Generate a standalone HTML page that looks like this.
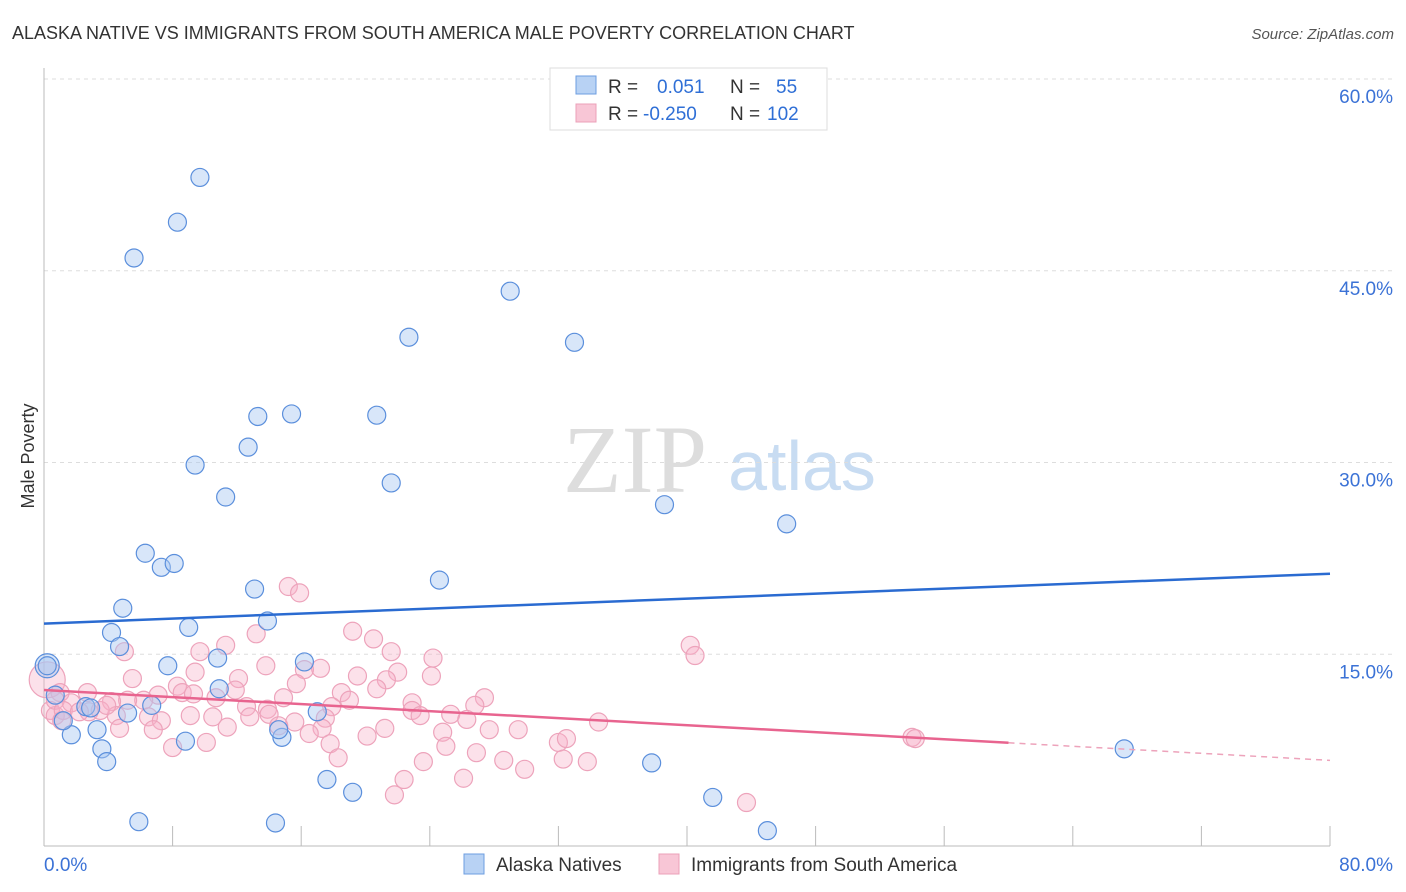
<!DOCTYPE html>
<html><head><meta charset="utf-8"><style>
body{margin:0;background:#fff;font-family:"Liberation Sans",sans-serif;}
svg{display:block}
</style></head><body>
<svg id="c" width="1406" height="892">
<text x="12" y="39" font-size="18" fill="#333">ALASKA NATIVE VS IMMIGRANTS FROM SOUTH AMERICA MALE POVERTY CORRELATION CHART</text>
<text x="1394" y="39" font-size="15" fill="#555" font-style="italic" text-anchor="end">Source: ZipAtlas.com</text>
<text x="34" y="456" font-size="18" fill="#333" text-anchor="middle" transform="rotate(-90 34 456)">Male Poverty</text>
<g>
<text x="635" y="492" font-size="96" fill="#ddd" font-family="Liberation Serif,serif" text-anchor="middle">ZIP</text>
<text x="802" y="490" font-size="70" fill="#c8dcf2" text-anchor="middle">atlas</text>
</g>
<g id="grid"></g><g id="axes"></g><g id="pts"></g><g id="trend"></g>
<g>
<rect x="550" y="68" width="277" height="62" fill="#fff" stroke="#ddd"/>
<rect x="576" y="76" width="20" height="18" fill="#b8d2f4" stroke="#6d9ee0"/>
<rect x="576" y="104" width="20" height="18" fill="#f8c6d6" stroke="#eba0b8"/>
<text x="608" y="93" font-size="19" fill="#333">R = <tspan x="657" fill="#2f6fd6">0.051</tspan><tspan x="730" fill="#333">N = </tspan><tspan x="776" fill="#2f6fd6">55</tspan></text>
<text x="608" y="120" font-size="19" fill="#333">R = <tspan x="643" fill="#2f6fd6">-0.250</tspan><tspan x="730" fill="#333">N = </tspan><tspan x="767" fill="#2f6fd6">102</tspan></text>
</g>
<g>
<rect x="464" y="854" width="20" height="20" fill="#b8d2f4" stroke="#6d9ee0"/>
<text x="496" y="871" font-size="19" fill="#333">Alaska Natives</text>
<rect x="659" y="854" width="20" height="20" fill="#f8c6d6" stroke="#eba0b8"/>
<text x="691" y="871" font-size="19" fill="#333">Immigrants from South America</text>
</g>
</svg>
<script>
const yTicks=[15,30,45,60];
const yTickLabels=["15.0%","30.0%","45.0%","60.0%"];
const xLabels=["0.0%","80.0%"];
const blueX=[0.2,9.7,8.3,5.6,29.0,22.7,33.0,13.3,15.4,20.7,9.4,12.7,11.3,21.6,38.6,46.2,6.3,7.3,8.1,24.6,13.1,4.9,13.9,9.0,4.2,4.7,7.7,10.8,16.2,10.9,6.7,5.2,0.7,2.6,3.3,1.7,3.6,3.9,8.8,14.8,17.0,14.6,17.6,19.2,37.8,41.6,45.0,5.9,14.4,67.2,1.2,2.9];
const blueY=[14.1,52.3,48.8,46.0,43.4,39.8,39.4,33.6,33.8,33.7,29.8,31.2,27.3,28.4,26.7,25.2,22.9,21.8,22.1,20.8,20.1,18.6,17.6,17.1,16.7,15.6,14.1,14.7,14.4,12.3,11.0,10.4,11.8,10.9,9.1,8.7,7.6,6.6,8.2,8.5,10.5,9.1,5.2,4.2,6.5,3.8,1.2,1.9,1.8,7.6,9.8,10.8];
const pinkX=[15.2,15.9,40.2,40.5,19.2,20.5,21.6,24.2,13.2,11.3,9.7,5.0,17.2,16.2,13.8,9.4,5.5,12.1,19.5,22.0,24.1,21.3,15.7,20.7,18.5,8.3,8.6,11.9,27.4,22.9,26.8,19.0,17.9,14.9,13.9,12.6,10.7,9.3,7.1,6.2,5.2,4.2,2.7,1.0,0.4,0.7,1.7,2.8,4.5,6.5,7.3,9.1,10.5,12.8,14.0,22.9,23.4,25.3,26.3,34.5,17.5,17.3,15.6,14.6,11.4,4.7,6.8,21.2,27.7,29.5,24.8,16.5,10.1,8.0,17.8,20.1,25.0,26.9,32.0,32.5,18.3,28.6,23.6,32.3,33.8,29.9,26.1,22.4,21.8,43.7,54.0,54.2,0.7,1.2,2.2,3.5,3.9,1.1];
const pinkY=[20.3,19.8,15.7,14.9,16.8,16.2,15.2,14.7,16.6,15.7,15.2,15.2,13.9,13.8,14.1,13.6,13.1,13.1,13.3,13.6,13.3,13.0,12.7,12.3,12.0,12.5,12.0,12.2,11.6,11.2,11.0,11.4,10.9,11.6,10.7,10.9,11.6,11.9,11.8,11.4,11.4,11.3,12.0,12.0,10.6,10.2,11.2,10.5,10.2,10.1,9.8,10.2,10.1,10.1,10.3,10.6,10.2,10.3,9.9,9.7,10.0,9.2,9.7,9.4,9.3,9.2,9.1,9.2,9.1,9.1,8.9,8.8,8.1,7.7,8.0,8.6,7.8,7.3,8.1,8.4,6.9,6.7,6.6,6.8,6.6,6.0,5.3,5.2,4.0,3.4,8.5,8.4,11.4,10.6,10.5,10.6,11.0,9.8];
const bigBlue={x:0.2,y:14.1};const bigPink={x:0.2,y:13.0};
const blueTrend=[17.4,21.3];const pinkTrend=[12.2,6.7];const pinkSolidEnd=60;
const X0=44,X1=1330,Y0=846,Y60=79;
const sx=v=>X0+(X1-X0)*v/80, sy=v=>Y0-(Y0-Y60)*v/60;
const NS="http://www.w3.org/2000/svg";
function mk(t,a,p){const e=document.createElementNS(NS,t);for(const k in a)e.setAttribute(k,a[k]);p.appendChild(e);return e;}
const grid=document.getElementById('grid'),axes=document.getElementById('axes'),pts=document.getElementById('pts'),tr=document.getElementById('trend');
yTicks.forEach((v,i)=>{
 const l=mk('line',{x1:X0,x2:1393,y1:sy(v),y2:sy(v),stroke:'#ddd','stroke-dasharray':'4,4'},grid);
 
 
 const t=mk('text',{x:1393,y:sy(v)+24,'font-size':19,fill:'#3b72d6','text-anchor':'end'},axes);
 t.textContent=yTickLabels[i];
 
 
});
const gt=mk('line',{x1:X0,x2:1393,y1:Y60,y2:Y60,stroke:'#ddd','stroke-dasharray':'4,4'},grid);
mk('line',{x1:X0,x2:X0,y1:68,y2:Y0,stroke:'#bbb'},axes);
mk('line',{x1:X0,x2:X1,y1:Y0,y2:Y0,stroke:'#bbb'},axes);
for(let i=1;i<=10;i++){const x=sx(i*8);const t=mk('line',{x1:x,x2:x,y1:826,y2:Y0,stroke:'#bbb'},axes);}
[[0,'start',44],[80,'end',1393]].forEach((d,i)=>{const t=mk('text',{x:d[2],y:871,'font-size':19,fill:'#3b72d6','text-anchor':d[1]},axes);t.textContent=xLabels[i];});
function dot(x,y,r,c){const e=mk('circle',{cx:sx(x),cy:sy(y),r:r,fill:c?'rgba(168,200,242,0.45)':'rgba(246,176,200,0.38)',stroke:c?'#5b8fdc':'#eda3bb','stroke-width':1.2},pts);return e;}
let e=dot(bigPink.x,bigPink.y,18,false);
e=dot(bigBlue.x,bigBlue.y,12,true);
pinkX.forEach((x,i)=>{const c=dot(x,pinkY[i],9,false);
 
 });
blueX.forEach((x,i)=>{const c=dot(x,blueY[i],9,true);
 
 });
const bl=mk('line',{x1:sx(0),y1:sy(blueTrend[0]),x2:sx(80),y2:sy(blueTrend[1]),stroke:'#2a6bd1','stroke-width':2.5},tr);

const pe=pinkTrend[0]+(pinkTrend[1]-pinkTrend[0])*pinkSolidEnd/80;
const pl=mk('line',{x1:sx(0),y1:sy(pinkTrend[0]),x2:sx(pinkSolidEnd),y2:sy(pe),stroke:'#e8648f','stroke-width':2.5},tr);

const pd=mk('line',{x1:sx(pinkSolidEnd),y1:sy(pe),x2:sx(80),y2:sy(pinkTrend[1]),stroke:'#eda3bb','stroke-width':1.5,'stroke-dasharray':'6,5'},tr);

</script>
</body></html>
